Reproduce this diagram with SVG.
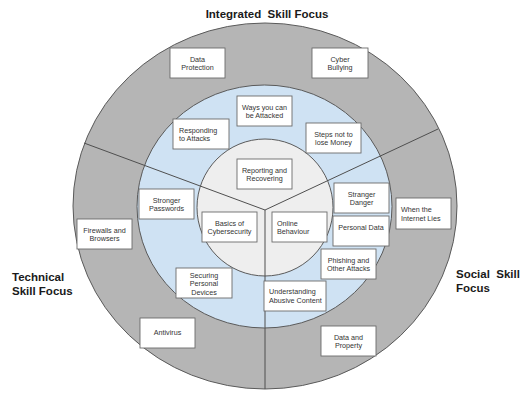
<svg xmlns="http://www.w3.org/2000/svg" width="520" height="408" viewBox="0 0 520 408">
<style>
.ring{stroke:#5a5a5a;stroke-width:1}
.box{fill:#ffffff;stroke:#6b6b6b;stroke-width:0.9}
.t{font-family:"Liberation Sans",Arial,sans-serif;font-size:7.2px;fill:#333333}
.c{text-anchor:middle}
.h{font-family:"Liberation Sans",Arial,sans-serif;font-size:11.5px;font-weight:bold;fill:#1a1a1a}
.con{stroke:#4f4f4f;stroke-width:1;fill:none}
</style>
<rect width="520" height="408" fill="#ffffff"/>
<g id="rings">
<ellipse class="ring" cx="265" cy="206" rx="192" ry="183" fill="#b5b5b5"/>
<ellipse class="ring" cx="264.5" cy="206.5" rx="127.5" ry="121.5" fill="#cfe2f3"/>
<ellipse class="ring" cx="265" cy="207.5" rx="68" ry="68.5" fill="#eeeeee"/>
</g>
<g id="connectors">
<line class="con" x1="84" y1="143" x2="265" y2="210"/>
<line class="con" x1="438" y1="129" x2="265" y2="210"/>
<line class="con" x1="265" y1="210" x2="265" y2="389"/>
</g>
<g id="labels">
<text class="h c" x="267" y="18" xml:space="preserve">Integrated  Skill Focus</text>
<text class="h" x="12" y="281">Technical</text>
<text class="h" x="12" y="295">Skill Focus</text>
<text class="h" x="456" y="278" xml:space="preserve">Social  Skill</text>
<text class="h" x="456" y="292">Focus</text>
</g>
<g id="data-protection"><rect class="box" x="170" y="48" width="55" height="30"/><text class="t c" x="197.5" y="61.5">Data</text><text class="t c" x="197.5" y="70">Protection</text></g>
<g id="cyber-bullying"><rect class="box" x="312" y="48" width="56" height="30"/><text class="t c" x="340" y="61.5">Cyber</text><text class="t c" x="340" y="70">Bullying</text></g>
<g id="ways-attacked"><rect class="box" x="237" y="96" width="55" height="30"/><text class="t c" x="264.5" y="109.5">Ways you can</text><text class="t c" x="264.5" y="118">be Attacked</text></g>
<g id="responding-attacks"><rect class="box" x="173" y="119" width="56" height="30"/><text class="t" x="179" y="132.5">Responding</text><text class="t" x="179" y="141">to Attacks</text></g>
<g id="steps-money"><rect class="box" x="306" y="123" width="55" height="30"/><text class="t c" x="333.5" y="136.5">Steps not to</text><text class="t c" x="333.5" y="145">lose Money</text></g>
<g id="reporting-recovering"><rect class="box" x="237" y="159" width="55" height="30"/><text class="t c" x="264.5" y="172.5">Reporting and</text><text class="t c" x="264.5" y="181">Recovering</text></g>
<g id="stronger-passwords"><rect class="box" x="139" y="189" width="55" height="30"/><text class="t c" x="166.5" y="202.5">Stronger</text><text class="t c" x="166.5" y="211">Passwords</text></g>
<g id="basics-cybersecurity"><rect class="box" x="202" y="212" width="55" height="30"/><text class="t c" x="229.5" y="225.5">Basics of</text><text class="t c" x="229.5" y="234">Cybersecurity</text></g>
<g id="online-behaviour"><rect class="box" x="272" y="212" width="55" height="30"/><text class="t" x="277" y="225.5">Online</text><text class="t" x="277" y="234">Behaviour</text></g>
<g id="stranger-danger"><rect class="box" x="334" y="183" width="55" height="30"/><text class="t c" x="361.5" y="196.5">Stranger</text><text class="t c" x="361.5" y="205">Danger</text></g>
<g id="personal-data"><rect class="box" x="333" y="216" width="56" height="30"/><text class="t c" x="361" y="230">Personal Data</text></g>
<g id="phishing-attacks"><rect class="box" x="321" y="249" width="55" height="30"/><text class="t c" x="348.5" y="262.5">Phishing and</text><text class="t c" x="348.5" y="271">Other Attacks</text></g>
<g id="internet-lies"><rect class="box" x="396" y="198" width="55" height="31"/><text class="t" x="401" y="211.5">When the</text><text class="t" x="401" y="220.5">Internet Lies</text></g>
<g id="abusive-content"><rect class="box" x="264" y="281" width="62" height="30"/><text class="t" x="269" y="294">Understanding</text><text class="t" x="269" y="302.5">Abusive Content</text></g>
<g id="data-property"><rect class="box" x="321" y="326" width="55" height="30"/><text class="t c" x="348.5" y="339.5">Data and</text><text class="t c" x="348.5" y="348">Property</text></g>
<g id="firewalls-browsers"><rect class="box" x="77" y="219" width="55" height="30"/><text class="t c" x="104.5" y="232.5">Firewalls and</text><text class="t c" x="104.5" y="241">Browsers</text></g>
<g id="securing-devices"><rect class="box" x="176" y="268" width="56" height="30"/><text class="t c" x="204" y="277.5">Securing</text><text class="t c" x="204" y="286">Personal</text><text class="t c" x="204" y="294.5">Devices</text></g>
<g id="antivirus"><rect class="box" x="140" y="318" width="55" height="30"/><text class="t c" x="167.5" y="335">Antivirus</text></g>
</svg>
